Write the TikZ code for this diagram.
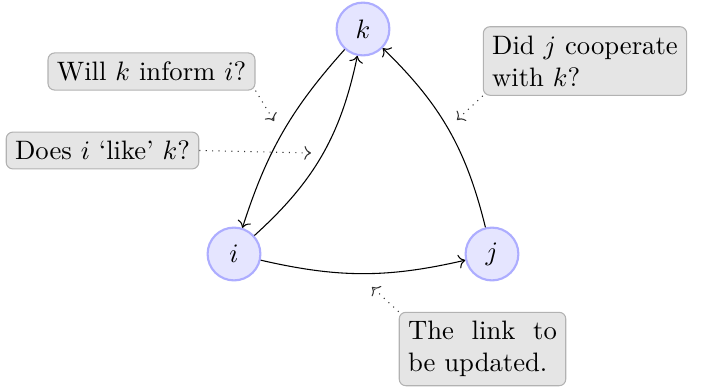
\documentclass[tikz,border=0pt]{standalone}
\usetikzlibrary{arrows.meta}
\begin{document}
\begin{tikzpicture}[x=0.375pt,y=-0.375pt,
  agent/.style={circle,draw=blue!32,fill=blue!10,line width=0.8pt,minimum size=19.8pt,inner sep=0pt},
  note/.style={draw=black!30,fill=black!10,rounded corners=2.5pt,inner sep=3.33pt},
  link/.style={->,black},
  hint/.style={->,dotted,black!80}]
\useasboundingbox (0,0) rectangle (710,391);
\node[agent] (k) at (363,29) {$k$};
\node[agent] (i) at (234,254) {$i$};
\node[agent] (j) at (492,254) {$j$};
\node[note] (will) at (151.5,71.5) {Will $k$ inform $i$?};
\node[note] (does) at (102.5,150.5) {Does $i$ `like' $k$?};
\node[note,text width=69.6pt,align=justify] (did) at (585,61) {Did $j$ cooperate with $k$?};
\node[note,text width=55.8pt,align=justify] (upd) at (482.5,349) {The link to be updated.};
\draw[link] (k) to[bend right=12] (i);
\draw[link] (i) to[bend right=18] (k);
\draw[link] (j) to[bend right=16] (k);
\draw[link] (i) to[bend right=13] (j);
\coordinate (c1) at (274,121);
\coordinate (c2) at (311,153);
\coordinate (c3) at (457,120);
\coordinate (c4) at (372,287);
\draw[hint] (will.south east) -- (c1);
\draw[hint] (does.east) -- (c2);
\draw[hint] (did.south west) -- (c3);
\draw[hint] (upd.north west) -- (c4);
\end{tikzpicture}
\end{document}
